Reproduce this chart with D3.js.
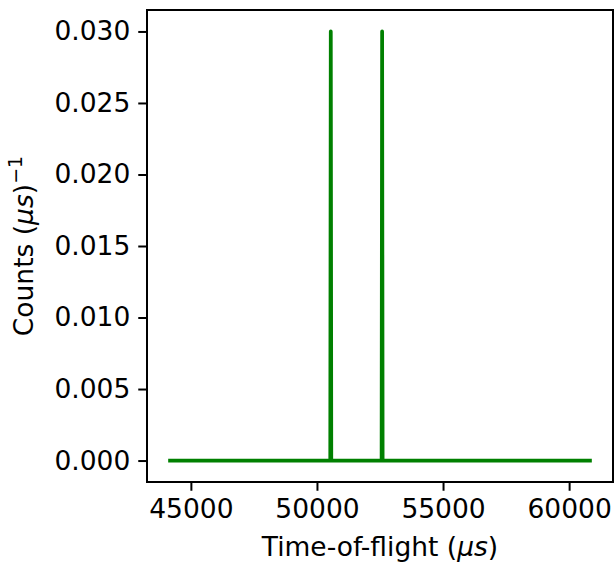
<!DOCTYPE html>
<html>
<head>
<meta charset="utf-8">
<script src="https://cdn.jsdelivr.net/npm/d3@7"></script>
<style>
  body { margin: 0; background: #fff; }
  svg { display: block; }
  text { font-family: "DejaVu Sans", sans-serif; }
</style>
</head>
<body>
<svg id="chart" width="615" height="563"></svg>
<script>
// Data
const tof = [44100, 50528, 50548, 50568, 52564, 52584, 52604, 60900];
const counts = [0, 0, 0.030, 0, 0, 0.030, 0, 0];
const xTicks = [45000, 50000, 55000, 60000];
const yTicks = [0.000, 0.005, 0.010, 0.015, 0.020, 0.025, 0.030];

const W = 615, H = 563;
const m = { left: 147, right: 2, top: 10, bottom: 81 };
const pw = W - m.left - m.right, ph = H - m.top - m.bottom;
const FS = "26.5px";

const svg = d3.select("#chart");
const g = svg.append("g").attr("transform", `translate(${m.left},${m.top})`);

const xExt = d3.extent(tof), xPad = (xExt[1] - xExt[0]) * 0.05;
const yExt = d3.extent(counts), yPad = (yExt[1] - yExt[0]) * 0.05;
const x = d3.scaleLinear().domain([xExt[0] - xPad, xExt[1] + xPad]).range([0, pw]);
const y = d3.scaleLinear().domain([yExt[0] - yPad, yExt[1] + yPad]).range([ph, 0]);

const data = tof.map((t, i) => [t, counts[i]]);
g.append("path")
  .datum(data)
  .attr("fill", "none")
  .attr("stroke", "#008000")
  .attr("stroke-width", 3.75)
  .attr("stroke-linejoin", "round")
  .attr("d", d3.line().x(d => x(d[0])).y(d => y(d[1])));

const xAxis = g.append("g").attr("transform", `translate(0,${ph})`)
  .call(d3.axisBottom(x).tickValues(xTicks).tickFormat(d3.format("d")).tickSize(8.75).tickPadding(8).tickSizeOuter(0));
const yAxis = g.append("g")
  .call(d3.axisLeft(y).tickValues(yTicks).tickFormat(d3.format(".3f")).tickSize(8.75).tickPadding(8).tickSizeOuter(0));

[xAxis, yAxis].forEach(a => {
  a.select(".domain").remove();
  a.selectAll(".tick line").attr("stroke", "#000").attr("stroke-width", 2);
  a.selectAll(".tick text").attr("fill", "#000").style("font-size", FS).style("font-family", "DejaVu Sans");
});

g.append("rect").attr("x", 0).attr("y", 0).attr("width", pw).attr("height", ph)
  .attr("fill", "none").attr("stroke", "#000").attr("stroke-width", 2);

// X label
const xl = svg.append("text").attr("x", m.left + pw / 2).attr("y", 556)
  .attr("text-anchor", "middle").style("font-size", FS);
xl.append("tspan").text("Time-of-flight (");
xl.append("tspan").style("font-style", "italic").text("μs");
xl.append("tspan").text(")");

// Y label
const yl = svg.append("text")
  .attr("transform", `translate(33,${m.top + ph / 2}) rotate(-90)`)
  .attr("text-anchor", "middle").style("font-size", FS);
yl.append("tspan").text("Counts (");
yl.append("tspan").style("font-style", "italic").text("μs");
yl.append("tspan").text(")");
yl.append("tspan").attr("dy", -11).style("font-size", "19px").text("−1");
</script>
</body>
</html>
